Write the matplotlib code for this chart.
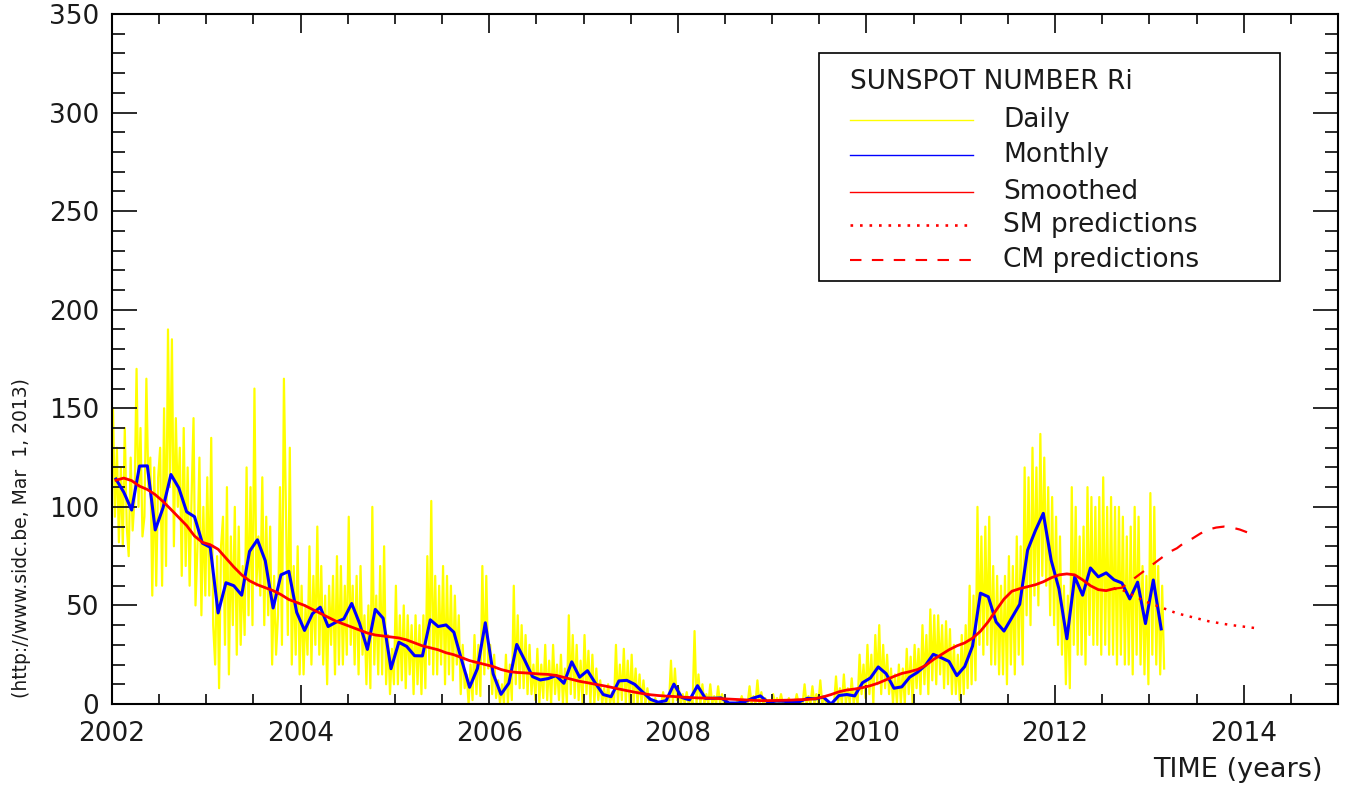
import numpy as np
import matplotlib.pyplot as plt
from matplotlib.patches import Rectangle
from matplotlib.lines import Line2D

# Daily sunspot number, ~4 readings per month, Jan 2002 - Feb 2013
daily = [
    # 2002
    150, 95, 130, 82, 120, 80, 140, 90, 75, 125, 88, 105, 170, 100, 140, 85,
    95, 165, 110, 125, 55, 120, 60, 115, 130, 60, 150, 70, 190, 110, 185, 80,
    145, 100, 130, 65, 140, 70, 120, 60, 105, 145, 50, 80, 125, 45, 100, 55,
    # 2003
    115, 55, 135, 40, 20, 75, 8, 80, 95, 30, 110, 15, 85, 40, 100, 25,
    90, 30, 70, 35, 120, 45, 110, 40, 160, 60, 85, 55, 115, 40, 95, 45,
    90, 20, 65, 25, 45, 110, 30, 165, 100, 35, 130, 20, 70, 25, 80, 15,
    # 2004
    60, 15, 50, 25, 80, 20, 65, 30, 90, 25, 70, 20, 55, 10, 60, 30,
    65, 15, 75, 20, 70, 20, 60, 25, 95, 30, 60, 20, 65, 15, 70, 25,
    45, 10, 50, 8, 100, 20, 55, 15, 70, 15, 80, 10, 35, 5, 28, 10,
    # 2005
    60, 10, 45, 12, 50, 8, 45, 15, 40, 5, 45, 10, 40, 5, 45, 8,
    75, 20, 103, 15, 65, 15, 60, 20, 70, 10, 65, 15, 60, 12, 55, 20,
    45, 5, 30, 8, 15, 0, 20, 2, 35, 5, 30, 4, 70, 15, 65, 18,
    # 2006
    30, 5, 25, 3, 12, 0, 10, 0, 25, 0, 20, 2, 60, 10, 45, 8,
    40, 8, 35, 5, 30, 5, 20, 2, 28, 0, 20, 3, 30, 2, 22, 0,
    30, 5, 20, 2, 25, 0, 18, 0, 45, 5, 35, 3, 30, 2, 22, 0,
    # 2007
    35, 5, 27, 0, 25, 0, 18, 2, 12, 0, 8, 0, 10, 0, 6, 0,
    30, 0, 20, 2, 28, 0, 22, 0, 25, 0, 18, 0, 15, 0, 12, 0,
    8, 0, 2, 0, 3, 0, 0, 0, 6, 0, 2, 0, 22, 0, 18, 2,
    # 2008
    8, 0, 5, 0, 6, 0, 3, 0, 37, 0, 15, 0, 10, 0, 5, 0,
    10, 0, 4, 0, 9, 0, 5, 0, 2, 0, 0, 0, 0, 0, 2, 0,
    4, 0, 0, 0, 9, 0, 4, 0, 12, 0, 6, 0, 3, 0, 2, 0,
    # 2009
    5, 0, 3, 0, 5, 0, 2, 0, 3, 0, 0, 0, 5, 0, 2, 0,
    10, 0, 4, 0, 9, 0, 5, 0, 12, 0, 4, 0, 0, 0, 0, 0,
    14, 0, 8, 0, 15, 0, 8, 0, 13, 0, 7, 0, 25, 5, 20, 3,
    # 2010
    30, 5, 25, 0, 35, 10, 40, 5, 30, 8, 25, 5, 18, 0, 15, 0,
    20, 0, 18, 0, 28, 5, 24, 0, 30, 8, 28, 5, 40, 10, 35, 5,
    48, 12, 45, 10, 45, 15, 40, 8, 42, 10, 38, 5, 30, 5, 25, 2,
    # 2011
    35, 5, 40, 8, 60, 10, 55, 12, 100, 30, 85, 25, 90, 30, 95, 20,
    70, 20, 65, 15, 60, 15, 65, 10, 75, 20, 70, 15, 85, 25, 80, 20,
    120, 45, 115, 40, 130, 55, 120, 50, 137, 65, 125, 60, 110, 45, 105, 40,
    # 2012
    95, 30, 85, 25, 60, 10, 55, 8, 110, 30, 100, 25, 85, 25, 90, 20,
    110, 35, 105, 30, 100, 30, 105, 25, 115, 30, 100, 25, 105, 25, 100, 20,
    100, 25, 95, 20, 85, 20, 90, 15, 100, 25, 95, 20, 70, 15, 65, 10,
    # 2013
    107, 25, 100, 20, 70, 15, 60, 18,
]

# Monthly mean sunspot number, Jan 2002 - Feb 2013
monthly = [
    114.1, 107.4, 98.4, 120.7, 120.8, 88.3, 99.6, 116.4, 109.6, 97.5, 95.0, 81.6,
    79.5, 46.2, 61.5, 60.0, 55.2, 77.4, 83.3, 72.7, 48.7, 65.5, 67.3, 46.5,
    37.3, 45.8, 49.1, 39.3, 41.5, 43.2, 51.0, 40.9, 27.7, 48.0, 43.5, 17.9,
    31.3, 29.2, 24.5, 24.4, 42.7, 39.3, 40.1, 36.4, 22.1, 8.5, 18.0, 41.2,
    15.3, 4.9, 10.6, 30.2, 22.3, 13.9, 12.2, 12.9, 14.4, 10.5, 21.4, 13.6,
    16.9, 10.6, 4.8, 3.7, 11.7, 12.0, 10.0, 6.2, 2.4, 0.9, 1.7, 10.1,
    3.3, 2.1, 9.3, 2.9, 2.9, 3.1, 0.5, 0.5, 1.1, 2.9, 4.1, 0.8,
    1.5, 1.4, 0.7, 1.2, 2.9, 2.6, 3.5, 0.0, 4.3, 4.8, 4.1, 10.8,
    13.2, 18.8, 15.4, 8.0, 8.7, 13.6, 16.1, 19.6, 25.2, 23.5, 21.6, 14.4,
    19.0, 29.4, 56.2, 54.4, 41.6, 37.0, 43.8, 50.6, 78.0, 88.0, 96.7, 73.0,
    58.3, 33.1, 64.5, 55.2, 69.0, 64.5, 66.5, 63.0, 61.4, 53.3, 61.8, 40.8,
    62.9, 38.1,
]

# 13-month smoothed sunspot number, Jan 2002 - Aug 2012
smoothed = [
    113.5, 114.6, 113.3, 110.5, 108.8, 106.2, 102.7, 98.7, 94.6, 90.5, 85.2, 82.0,
    80.8, 78.5, 74.0, 69.5, 65.5, 62.5, 60.5, 59.0, 57.5, 55.5, 53.0, 51.5,
    50.0, 48.0, 46.0, 44.0, 42.0, 40.5, 39.0, 37.5, 36.0, 35.0, 34.5, 34.0,
    33.5, 32.5, 31.0, 29.5, 28.5, 27.5, 26.0, 25.0, 23.5, 22.0, 21.0, 20.0,
    19.0, 17.5, 16.5, 16.0, 15.8, 15.5, 15.2, 15.0, 14.5, 13.5, 12.5, 11.5,
    10.8, 10.0, 9.3, 8.5, 7.6, 6.8, 6.0, 5.3, 4.7, 4.3, 4.0, 3.8,
    3.5, 3.3, 3.1, 3.0, 2.9, 2.7, 2.5, 2.3, 2.1, 1.9, 1.7, 1.7,
    1.8, 1.9, 2.0, 2.2, 2.3, 2.7, 3.6, 4.8, 6.2, 7.1, 7.6, 8.3,
    9.3, 10.6, 12.3, 14.0, 15.5, 16.4, 17.5, 19.5, 22.5, 25.0, 27.5, 29.5,
    31.0, 33.4, 36.9, 41.8, 47.6, 53.2, 57.2, 58.5, 59.5, 60.5, 62.0, 64.0,
    65.5, 66.0, 65.5, 63.0, 60.0, 58.0, 57.5, 58.5,
]

# predictions, Aug 2012 - Feb 2014
sm_pred = [58.5, 58, 56, 54, 52, 50.5, 49, 47.5, 46, 45, 44, 43, 42, 41.3,
           40.6, 40, 39.5, 39, 38.5]
cm_pred = [58.5, 59, 62, 65, 68, 71, 74, 77, 79, 82, 84, 86.5, 88.5, 89.5,
           90, 89.5, 88.5, 87, 85.5]

daily_x = 2002 + (np.arange(len(daily)) + 0.5) / 48
monthly_x = 2002 + (np.arange(len(monthly)) + 0.5) / 12
smooth_x = 2002 + (np.arange(len(smoothed)) + 0.5) / 12
pred_x = 2002 + (np.arange(len(sm_pred)) + len(smoothed) - 0.5) / 12

TXT = '#1a1a1a'
W, H = 1346, 790
fig = plt.figure(figsize=(W / 100, H / 100), dpi=100)
ax = fig.add_axes([112 / W, 1 - 704 / H, 1226 / W, 690 / H])

ax.plot(daily_x, daily, color='#ffff00', lw=1.6, zorder=1)
ax.plot(monthly_x, monthly, color='#0000ff', lw=2.2, zorder=2)
ax.plot(smooth_x, smoothed, color='#ff0000', lw=2.0, zorder=3)
ax.plot(pred_x, sm_pred, color='#ff0000', lw=1.8, ls=(0, (1, 2.6)), zorder=3)
ax.plot(pred_x, cm_pred, color='#ff0000', lw=1.6, ls=(0, (5.5, 5)), zorder=3)

ax.set_xlim(2002, 2015)
ax.set_ylim(0, 350)
ax.set_xticks(np.arange(2002, 2015, 2))
ax.set_xticks(np.arange(2002, 2015.01, 0.5), minor=True)
ax.set_yticks(np.arange(0, 351, 50))
ax.set_yticks(np.arange(0, 351, 10), minor=True)

for s in ax.spines.values():
    s.set_linewidth(1.5)
ax.tick_params(which='both', direction='in', top=True, right=True,
               width=1.3, labelsize=19, colors=TXT)
ax.tick_params(axis='x', which='major', length=14, pad=12)
ax.tick_params(axis='x', which='minor', length=7.5)
ax.tick_params(axis='y', which='major', length=18, pad=9)
ax.tick_params(axis='y', which='minor', length=9.5)

fig.text(1323 / W, 1 - 770 / H, 'TIME (years)', ha='right', va='center',
         fontsize=19.5, color=TXT)
fig.text(22 / W, 1 - 538 / H, '(http://www.sidc.be, Mar  1, 2013)',
         rotation=90, ha='center', va='center', fontsize=13.5, color=TXT)


# legend box drawn in axes fraction from pixel positions
def px(x, y):
    return (x - 112) / 1226, (704 - y) / 690


x0, y0 = px(819, 281)
x1, y1 = px(1280, 53)
ax.add_patch(Rectangle((x0, y0), x1 - x0, y1 - y0, transform=ax.transAxes,
                       facecolor='white', edgecolor='black', lw=1.2, zorder=5))
tx, ty = px(850, 82)
ax.text(tx, ty, 'SUNSPOT NUMBER Ri', transform=ax.transAxes, fontsize=19,
        va='center', ha='left', color=TXT, zorder=6)
entries = [
    ('Daily', '#ffff00', '-', 120),
    ('Monthly', '#0000ff', '-', 155),
    ('Smoothed', '#ff0000', '-', 192),
    ('SM predictions', '#ff0000', (0, (1, 2.6)), 225),
    ('CM predictions', '#ff0000', (0, (5.5, 5)), 260),
]
for label, col, ls, yy in entries:
    la, lb = px(850, yy)
    lc, _ = px(973, yy)
    lw = 1.0
    if ls != '-':
        lw = 1.5 if ls[1][0] > 2 else 1.9
    ax.add_line(Line2D([la, lc], [lb, lb], transform=ax.transAxes, color=col,
                       lw=lw, ls=ls, zorder=6))
    ta, _ = px(1003, yy)
    ax.text(ta, lb, label, transform=ax.transAxes, fontsize=19, va='center',
            ha='left', color=TXT, zorder=6)

fig.savefig('out.png', dpi=100)
